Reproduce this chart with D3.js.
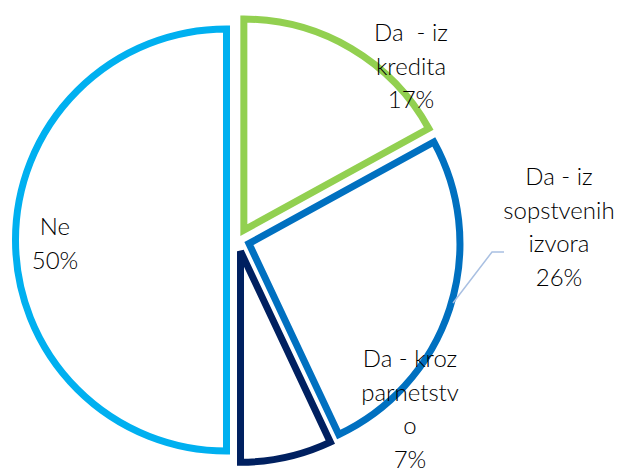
<!DOCTYPE html>
<html>
<head>
<meta charset="utf-8">
<script src="https://cdn.jsdelivr.net/npm/d3@7"></script>
<style>
  body { margin: 0; background: #fff; }
  text { font-family: Lato, "Open Sans", sans-serif; font-weight: 300; fill: #000; }
</style>
</head>
<body>
<div id="vis"></div>
<script>
// frame
const FRAME_WIDTH = 621;
const FRAME_HEIGHT = 468;
const CENTER = {x: 238, y: 240};
const RADIUS = 211;
const EXPLODE = 11.5;

// data
const categories = ["Da - iz kredita", "Da - iz sopstvenih izvora", "Da - kroz parnetstvo", "Ne"];
const values = [17, 26, 7, 50];
const labelLines = [
  ["Da  - iz", "kredita", "17%"],
  ["Da - iz", "sopstvenih", "izvora", "26%"],
  ["Da - kroz", "parnetstv", "o", "7%"],
  ["Ne", "50%"]
];
const colors = ["#92D050", "#0070C0", "#002060", "#00B0F0"];

// label anchor positions (center of first line)
const labelPos = [
  {x: 411, y: 33},
  {x: 559, y: 177},
  {x: 410, y: 359},
  {x: 55, y: 227}
];
const LINE_H = 33.5;

const FRAME = d3.select("#vis").append("svg")
                .attr("width", FRAME_WIDTH)
                .attr("height", FRAME_HEIGHT);

const pie = d3.pie().sort(null).value((d) => d)(values);
const arc = d3.arc().innerRadius(0).outerRadius(RADIUS);

FRAME.selectAll(".slice")
    .data(pie)
    .enter()
    .append("path")
      .attr("class", "slice")
      .attr("d", arc)
      .attr("transform", (d) => {
        const a = (d.startAngle + d.endAngle) / 2;
        const dx = Math.sin(a) * EXPLODE;
        const dy = -Math.cos(a) * EXPLODE;
        return "translate(" + (CENTER.x + dx) + "," + (CENTER.y + dy) + ")";
      })
      .attr("fill", "#fff")
      .attr("stroke", (d, i) => colors[i])
      .attr("stroke-width", 7)
      .attr("stroke-linejoin", "miter");

// leader line for the blue slice
FRAME.append("polyline")
    .attr("points", "453,303 492,252 504,252")
    .attr("fill", "none")
    .attr("stroke", "#A9C0E2")
    .attr("stroke-width", 1.5);

// labels
const labels = FRAME.selectAll(".lbl")
    .data(labelLines)
    .enter()
    .append("text")
      .attr("class", "lbl")
      .attr("text-anchor", "middle")
      .attr("font-size", "24px")
      .attr("x", (d, i) => labelPos[i].x)
      .attr("y", (d, i) => labelPos[i].y);

labels.selectAll("tspan")
    .data((d, i) => d.map((t) => ({t: t, i: i})))
    .enter()
    .append("tspan")
      .attr("x", (d) => labelPos[d.i].x)
      .attr("y", (d, j) => labelPos[d.i].y + j * LINE_H)
      .attr("dy", "0.35em")
      .attr("xml:space", "preserve")
      .style("white-space", "pre")
      .text((d) => d.t);
</script>
</body>
</html>
